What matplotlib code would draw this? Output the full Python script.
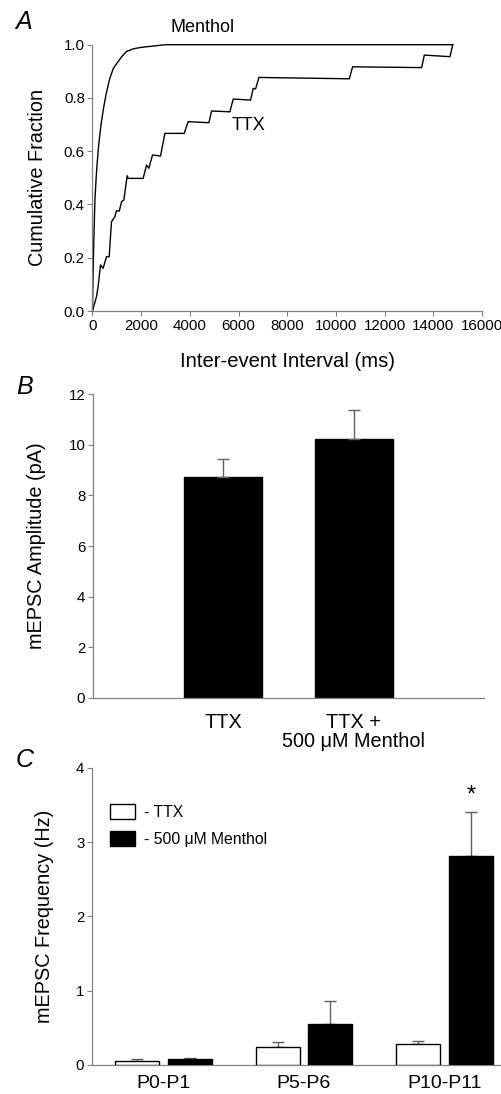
import matplotlib
matplotlib.use("Agg")
import matplotlib.pyplot as plt
from matplotlib.patches import Patch

plt.rcParams['font.family'] = ['Liberation Sans', 'DejaVu Sans']

# panel A: cumulative distributions (ms, fraction)
menthol_ms = [0, 20, 50, 100, 170, 250, 350, 450, 550, 700, 850, 1000, 1200,
              1400, 1700, 2000, 2500, 3000, 14800]
menthol_frac = [0, 0.12, 0.25, 0.42, 0.53, 0.62, 0.70, 0.76, 0.81, 0.87, 0.91,
                0.93, 0.955, 0.975, 0.985, 0.99, 0.995, 1.0, 1.0]
ttx_ms = [0, 164, 230, 329, 435, 575, 685, 780, 918, 986, 1100, 1192, 1288,
          1425, 1466, 2082, 2219, 2315, 2466, 2795, 2973, 3767, 3931, 4781,
          4890, 5644, 5781, 6493, 6603, 6700, 6836, 10548, 10685, 13521, 13630,
          14685, 14795]
ttx_frac = [0, 0.054, 0.091, 0.173, 0.16, 0.204, 0.204, 0.335, 0.354, 0.377,
            0.375, 0.41, 0.417, 0.508, 0.498, 0.498, 0.548, 0.536, 0.586,
            0.582, 0.667, 0.667, 0.711, 0.707, 0.751, 0.748, 0.796, 0.792,
            0.836, 0.834, 0.877, 0.872, 0.917, 0.914, 0.961, 0.955, 1.0]

# panel B: amplitude
amp_labels = ['TTX', 'TTX +\n500 \u03bcM Menthol']
amp_mean = [8.74, 10.22]
amp_err = [0.70, 1.16]

# panel C: frequency by age
ages = ['P0-P1', 'P5-P6', 'P10-P11']
freq_ttx = [0.058, 0.242, 0.287]
freq_ttx_err = [0.022, 0.063, 0.040]
freq_menthol = [0.080, 0.548, 2.81]
freq_menthol_err = [0.020, 0.31, 0.59]

W, H = 502, 1094
fig = plt.figure(figsize=(W / 100, H / 100), dpi=100)


def add_axes(left, right, top, bottom):
    return fig.add_axes([left / W, 1 - bottom / H, (right - left) / W, (bottom - top) / H])


def style(ax):
    for s in ['top', 'right']:
        ax.spines[s].set_visible(False)
    for s in ['left', 'bottom']:
        ax.spines[s].set_color('#808080')
        ax.spines[s].set_linewidth(0.9)
    ax.tick_params(color='#808080', length=3.5, width=0.8, labelsize=10.8, pad=2)


gray = '#606060'
lab = 14.3

# ---- A ----
axA = add_axes(92.5, 482, 44.7, 311)
axA.plot(menthol_ms, menthol_frac, color='black', lw=1.0, clip_on=False)
axA.plot(ttx_ms, ttx_frac, color='black', lw=1.0, clip_on=False)
axA.set_xlim(0, 16000)
axA.set_ylim(0, 1.0)
axA.set_xticks(range(0, 16001, 2000))
axA.set_yticks([0, 0.2, 0.4, 0.6, 0.8, 1.0])
axA.set_yticklabels(['0.0', '0.2', '0.4', '0.6', '0.8', '1.0'])
style(axA)
axA.set_ylabel('Cumulative Fraction', fontsize=lab, labelpad=12)
axA.set_xlabel('Inter-event Interval (ms)', fontsize=14.6, labelpad=14)
axA.text(3184, 1.066, 'Menthol', fontsize=13, ha='left', va='center')
axA.text(5718, 0.698, 'TTX', fontsize=13, ha='left', va='center')

# ---- B ----
axB = add_axes(93, 484, 394.3, 697.7)
axB.bar([1, 2], amp_mean, width=0.6, color='black', edgecolor='black')
axB.errorbar([1, 2], amp_mean, yerr=[[0, 0], amp_err], fmt='none',
             ecolor=gray, elinewidth=1.0, capsize=4.5, capthick=1.0)
axB.set_xlim(0, 3)
axB.set_ylim(0, 12)
axB.set_yticks(range(0, 13, 2))
axB.set_xticks([1, 2])
style(axB)
axB.set_xticklabels(amp_labels, fontsize=lab, linespacing=1.0)
axB.tick_params(axis='x', length=0, pad=11)
axB.set_ylabel('mEPSC Amplitude (pA)', fontsize=lab, labelpad=16)

# ---- C ----
axC = add_axes(92, 502, 767.7, 1065)
xs = [0, 1, 2]
w = 0.313
off = 0.188
xt = [x - off for x in xs]
xm = [x + off for x in xs]
axC.bar(xt, freq_ttx, width=w, color='white', edgecolor='black', lw=1.0, zorder=3)
axC.bar(xm, freq_menthol, width=w, color='black', edgecolor='black', lw=1.0, zorder=3)
axC.errorbar(xt, freq_ttx, yerr=[[0] * 3, freq_ttx_err], fmt='none',
             ecolor=gray, elinewidth=1.0, capsize=4.5, capthick=1.0, zorder=2)
axC.errorbar(xm, freq_menthol, yerr=[[0] * 3, freq_menthol_err], fmt='none',
             ecolor=gray, elinewidth=1.0, capsize=4.5, capthick=1.0, zorder=2)
axC.set_xlim(-0.509, 2.41)
axC.set_ylim(0, 4)
axC.set_yticks(range(0, 5))
axC.set_xticks(xs)
style(axC)
axC.set_xticklabels(ages, fontsize=14)
axC.tick_params(axis='x', length=0, pad=7.5)
axC.set_ylabel('mEPSC Frequency (Hz)', fontsize=lab, labelpad=16)
axC.text(xm[2], 3.62, '*', fontsize=17, ha='center', va='center')
handles = [Patch(facecolor='white', edgecolor='black', lw=1.0),
           Patch(facecolor='black', edgecolor='black', lw=1.0)]
axC.legend(handles, ['- TTX', '- 500 \u03bcM Menthol'], loc='upper left',
           bbox_to_anchor=(0.01, 0.925), frameon=False, fontsize=11.3,
           handlelength=1.6, handleheight=1.1, handletextpad=0.55,
           labelspacing=0.7)

# panel letters
for letter, (px, py) in zip('ABC', [(24, 22), (25, 387), (25, 760)]):
    fig.text(px / W, 1 - py / H, letter, fontsize=18, style='italic',
             ha='center', va='center')

fig.savefig('out.png', dpi=100)
